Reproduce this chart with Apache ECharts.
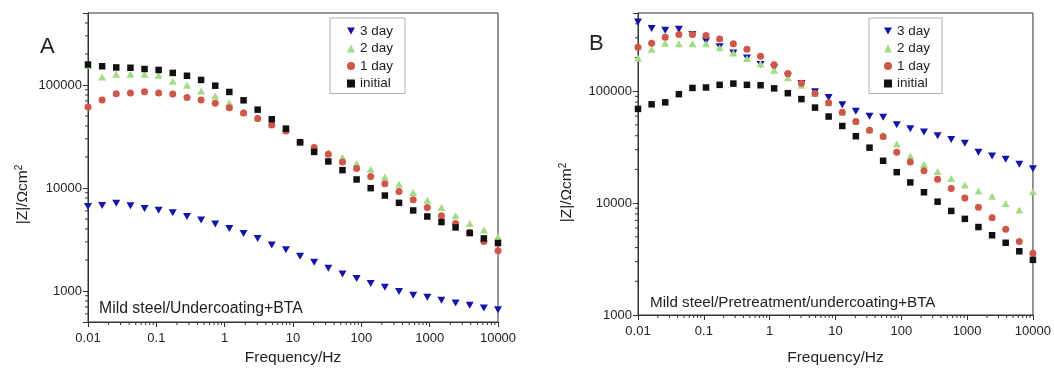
<!DOCTYPE html>
<html>
<head>
<meta charset="utf-8">
<script src="https://cdn.jsdelivr.net/npm/echarts@6/dist/echarts.min.js"></script>
<style>
  html, body { margin: 0; padding: 0; background: #ffffff; }
  #chart { width: 1054px; height: 371px; }
</style>
</head>
<body>
<div id="chart"></div>
<script>
// Measurement frequencies (Hz), shared by every sweep
const frequencies = [0.01, 0.0161, 0.0259, 0.0418, 0.0672, 0.108, 0.174, 0.281, 0.452, 0.728,
  1.17, 1.89, 3.04, 4.89, 7.88, 12.7, 20.4, 32.9, 53.0, 85.3,
  137, 221, 356, 574, 924, 1487, 2395, 3857, 6210, 10000];

const seriesNames = ['3 day', '2 day', '1 day', 'initial'];

// Panel A: Mild steel/Undercoating+BTA, |Z| in ohm cm^2
const zA_day3 = [6620, 6770, 7130, 6710, 6330, 6090, 5740, 5290, 4880, 4460,
  4050, 3620, 3240, 2790, 2520, 2170, 1900, 1660, 1460, 1320,
  1180, 1090, 986, 908, 869, 813, 766, 727, 685, 659];
const zA_day2 = [155000, 119600, 127000, 127000, 127000, 124000, 109000, 99300, 87500, 78200,
  67400, 54500, 48000, 42000, 37000, 28000, 25200, 22100, 19800, 17300,
  15200, 12800, 10900, 9040, 7620, 6470, 5370, 4530, 3900, 3370];
const zA_day1 = [61200, 71600, 82400, 83600, 86100, 83600, 81800, 75400, 71600, 66400,
  60200, 53500, 47200, 41000, 35800, 27800, 24700, 21300, 17900, 15500,
  12900, 11000, 9250, 7680, 6470, 5370, 4530, 3710, 3030, 2460];
const zA_initial = [158000, 152000, 148000, 147000, 143000, 140000, 131000, 123000, 112000, 98500,
  85600, 71000, 57600, 46500, 37700, 27800, 22400, 18100, 14900, 12100,
  9960, 8450, 7180, 6050, 5290, 4670, 4140, 3650, 3240, 2920];

// Panel B: Mild steel/Pretreatment/undercoating+BTA
const zB_day3 = [416000, 363000, 351000, 358000, 321000, 281000, 250000, 219000, 198000, 173000,
  162000, 136000, 117000, 98700, 87900, 75800, 66200, 59800, 58600, 50200,
  46300, 43300, 39900, 37000, 34200, 28500, 26400, 24700, 22300, 20300];
const zB_day2 = [198000, 237000, 268000, 266000, 266000, 266000, 245000, 219000, 196000, 176000,
  154000, 132000, 113000, 96000, 79000, 65000, 54000, 45500, 40000, 33700,
  26400, 22300, 19200, 16600, 14500, 12800, 11500, 9940, 8680, 12600];
const zB_day1 = [247000, 268000, 303000, 322000, 322000, 315000, 293000, 266000, 237000, 205000,
  172000, 144000, 118000, 95400, 78900, 64900, 53700, 44800, 39400, 28500,
  23300, 19500, 16300, 13500, 11100, 9170, 7380, 5830, 4540, 3560];
const zB_initial = [69500, 76400, 79500, 94100, 107000, 108000, 114000, 117000, 114000, 113000,
  106000, 96000, 85000, 71400, 59400, 48900, 39600, 31300, 23900, 18900,
  15300, 12500, 10300, 8510, 7230, 6110, 5160, 4420, 3710, 3110];

// Axis ranges and labelled ticks
const xRange = [0.01, 10000];
const yRangeA = [500, 500000];
const yRangeB = [1000, 500000];
const xTickLabels = ['0.01', '0.1', '1', '10', '100', '1000', '10000'];
const yTickLabels = ['1000', '10000', '100000'];
const panelTitles = ['A', 'B'];
const panelNotes = ['Mild steel/Undercoating+BTA', 'Mild steel/Pretreatment/undercoating+BTA'];

const FONT = 'Liberation Sans, Arial, Helvetica, sans-serif';
const AXIS_COLOR = '#333333';

const styles = {
  '3 day':   { symbol: 'path://M0,0 L10,0 L5,9 Z', color: '#1414aa', size: [8, 7] },
  '2 day':   { symbol: 'triangle', color: '#a2dc86', size: [8, 7] },
  '1 day':   { symbol: 'circle', color: '#cf5649', size: 7 },
  'initial': { symbol: 'rect', color: '#111111', size: 6.5 }
};

// Labelled tick lookup: returns the label text for a decade value, '' otherwise
function tickText(labels) {
  return function (v) {
    const hit = labels.find(l => Math.abs(Math.log10(+l) - Math.log10(v)) < 1e-6);
    return hit === undefined ? '' : hit;
  };
}

// Minor ticks at 2..9 x 10^k inside a range
function minorValues(range) {
  const out = [];
  const lo = Math.floor(Math.log10(range[0]));
  const hi = Math.ceil(Math.log10(range[1]));
  for (let e = lo; e < hi; e++) {
    for (let m = 2; m <= 9; m++) {
      const v = +(m * Math.pow(10, e)).toPrecision(6);
      if (v > range[0] && v < range[1]) out.push(v);
    }
  }
  return out;
}

function minorTickSeries(idx, yRange) {
  const data = [];
  minorValues(xRange).forEach(v => data.push([v, yRange[0], 0]));
  minorValues(yRange).forEach(v => data.push([xRange[0], v, 1]));
  return {
    type: 'custom',
    name: 'minor-ticks-' + idx,
    xAxisIndex: idx,
    yAxisIndex: idx,
    silent: true,
    clip: false,
    z: 1,
    data: data,
    renderItem: function (params, api) {
      const p = api.coord([api.value(0), api.value(1)]);
      const vertical = api.value(2) === 0;
      return {
        type: 'line',
        shape: vertical
          ? { x1: p[0], y1: p[1], x2: p[0], y2: p[1] + 3 }
          : { x1: p[0], y1: p[1], x2: p[0] - 3, y2: p[1] },
        style: { stroke: AXIS_COLOR, lineWidth: 1 }
      };
    }
  };
}

function scatterSeries(idx, name, values) {
  const s = styles[name];
  return {
    type: 'scatter',
    name: name,
    xAxisIndex: idx,
    yAxisIndex: idx,
    symbol: s.symbol,
    symbolSize: s.size,
    itemStyle: { color: s.color, opacity: 1 },
    emphasis: { disabled: true },
    z: 3,
    data: frequencies.map((f, i) => [f, values[i]])
  };
}

const grids = [
  { left: 88, top: 13, width: 410, height: 309 },
  { left: 638, top: 13, width: 395, height: 307 }
];

function xAxisFor(idx, nameGap) {
  return {
    type: 'log', logBase: 10, gridIndex: idx,
    min: xRange[0], max: xRange[1],
    name: 'Frequency/Hz', nameLocation: 'middle', nameGap: nameGap,
    nameTextStyle: { fontFamily: FONT, fontSize: 15.5, color: '#222' },
    axisLine: { show: true, lineStyle: { color: AXIS_COLOR, width: 1 } },
    axisTick: { show: true, inside: false, length: 5, lineStyle: { color: AXIS_COLOR } },
    axisLabel: { fontFamily: FONT, fontSize: 13, color: '#222', margin: 10,
      showMinLabel: true, showMaxLabel: true, formatter: tickText(xTickLabels) },
    splitLine: { show: false }
  };
}

// The y title sits below the plot's vertical centre; right padding in the
// rotated frame pushes it downward.
function yAxisFor(idx, range, nameGap, shift) {
  return {
    type: 'log', logBase: 10, gridIndex: idx,
    min: range[0], max: range[1],
    name: '|Z|/Ωcm{sup|2}', nameLocation: 'middle', nameGap: nameGap, nameRotate: 90,
    nameTextStyle: { fontFamily: FONT, fontSize: 15.5, color: '#222', padding: [0, shift, 0, 0],
      rich: { sup: { fontFamily: FONT, fontSize: 10, verticalAlign: 'top', padding: [0, 0, 8, 0] } } },
    axisLine: { show: true, lineStyle: { color: AXIS_COLOR, width: 1 } },
    axisTick: { show: true, inside: false, length: 5, lineStyle: { color: AXIS_COLOR } },
    axisLabel: { fontFamily: FONT, fontSize: 13, color: '#222', margin: 6,
      formatter: tickText(yTickLabels) },
    splitLine: { show: false }
  };
}

function legendFor(left, top, padLeft) {
  return {
    left: left, top: top, orient: 'vertical',
    data: seriesNames,
    selectedMode: false,
    itemWidth: 8, itemHeight: 8, itemGap: 3.5, itemTextGap: 14,
    padding: [6, 12, 3, padLeft],
    borderColor: '#b0b0b0', borderWidth: 1,
    textStyle: { fontFamily: FONT, fontSize: 13.5, color: '#222', lineHeight: 14 }
  };
}

const chart = echarts.init(document.getElementById('chart'), null, { renderer: 'canvas' });

chart.setOption({
  animation: false,
  backgroundColor: '#ffffff',
  grid: grids.map(g => Object.assign({ show: true, borderColor: AXIS_COLOR, borderWidth: 1,
    backgroundColor: 'transparent' }, g)),
  xAxis: [xAxisFor(0, 20), xAxisFor(1, 35)],
  yAxis: [yAxisFor(0, yRangeA, 56, 54), yAxisFor(1, yRangeB, 62, 57)],
  legend: [legendFor(330, 18, 17), legendFor(869, 18, 15)],
  series: [
    minorTickSeries(0, yRangeA),
    scatterSeries(0, '3 day', zA_day3),
    scatterSeries(0, '2 day', zA_day2),
    scatterSeries(0, '1 day', zA_day1),
    scatterSeries(0, 'initial', zA_initial),
    minorTickSeries(1, yRangeB),
    scatterSeries(1, '3 day', zB_day3),
    scatterSeries(1, '2 day', zB_day2),
    scatterSeries(1, '1 day', zB_day1),
    scatterSeries(1, 'initial', zB_initial)
  ],
  graphic: [
    { type: 'text', left: 40, top: 36, style: { text: panelTitles[0], font: '22px ' + FONT, fill: '#222' } },
    { type: 'text', left: 589, top: 33, style: { text: panelTitles[1], font: '22px ' + FONT, fill: '#222' } },
    { type: 'text', left: 99, top: 301, style: { text: panelNotes[0], font: '15.8px ' + FONT, fill: '#222' } },
    { type: 'text', left: 650, top: 295, style: { text: panelNotes[1], font: '15.2px ' + FONT, fill: '#222' } }
  ]
});
</script>
</body>
</html>
